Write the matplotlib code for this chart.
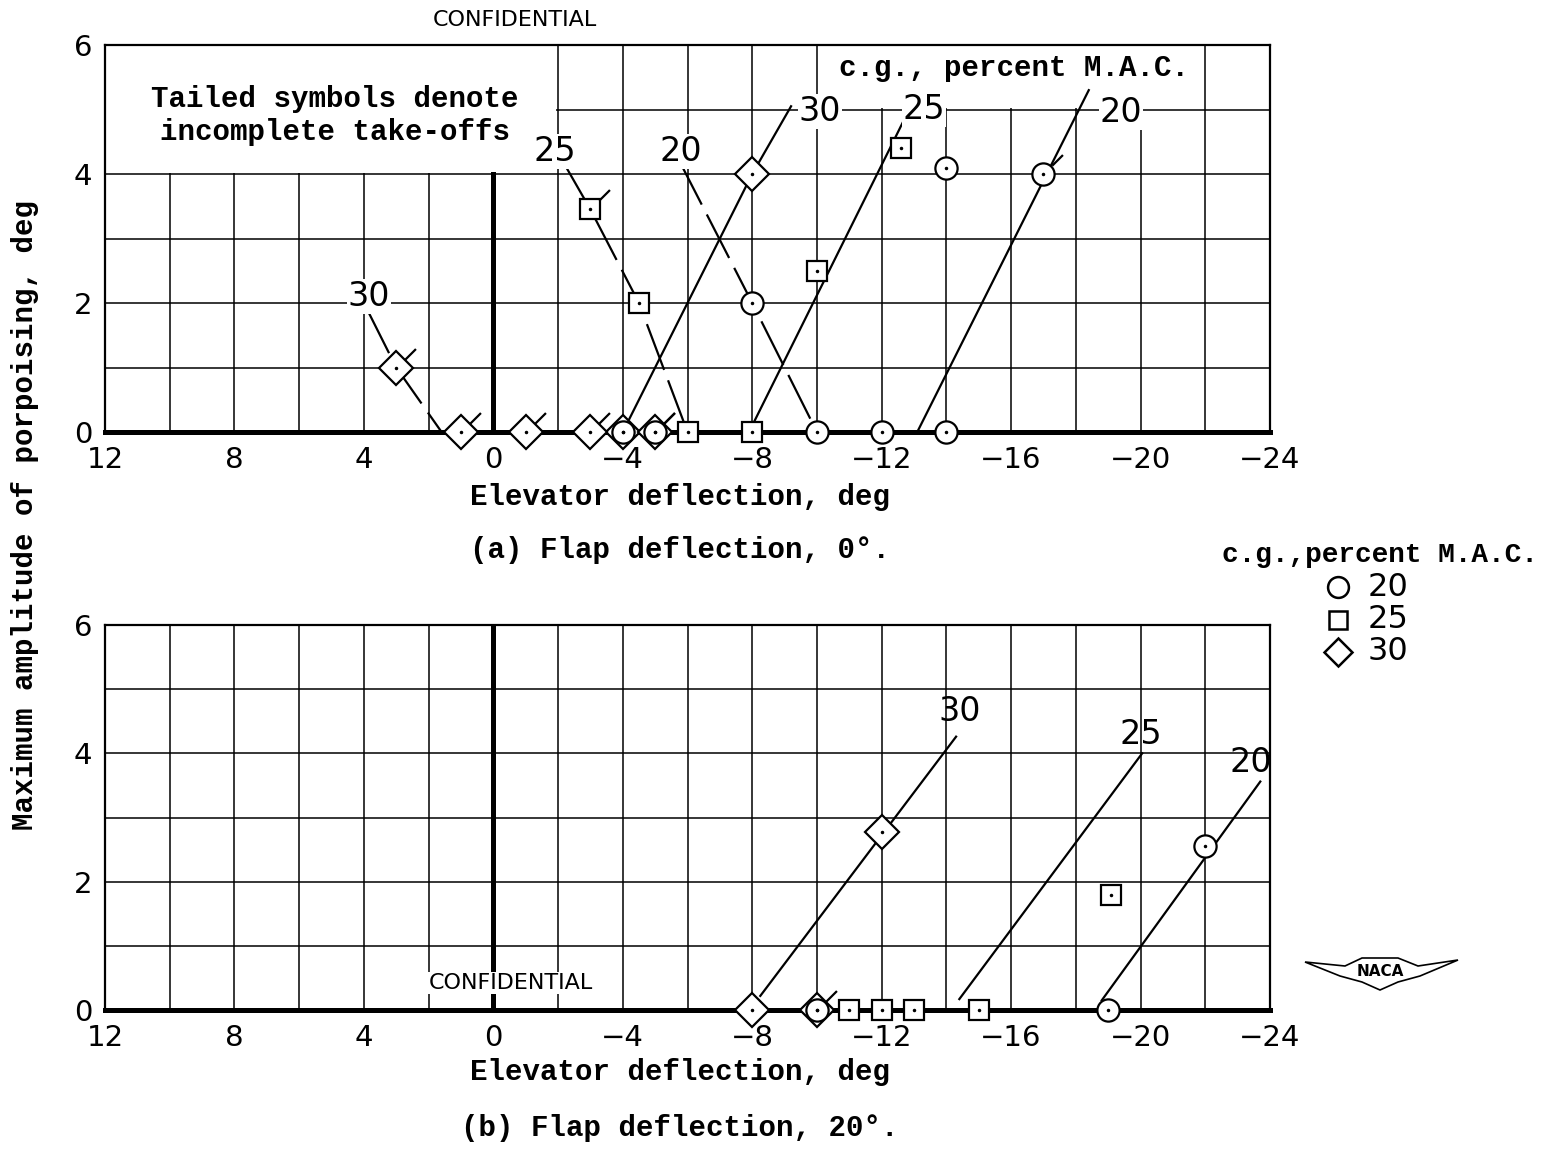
import matplotlib
matplotlib.use("Agg")
import matplotlib.pyplot as plt
from matplotlib.path import Path
from matplotlib.patches import Rectangle, Polygon
from matplotlib.lines import Line2D

# (a) flap deflection 0 deg -- measured points
a_cg20_x = [-4.0, -8.0, -10.0, -12.0, -14.0, -14.0]
a_cg20_y = [0.0, 2.0, 0.0, 0.0, 0.0, 4.1]
a_cg20_tail_x = [-5.0, -17.0]
a_cg20_tail_y = [0.0, 4.0]
a_cg25_x = [-4.5, -6.0, -8.0, -10.0, -12.6]
a_cg25_y = [2.0, 0.0, 0.0, 2.5, 4.4]
a_cg25_tail_x = [-3.0]
a_cg25_tail_y = [3.45]
a_cg30_x = [-4.0, -8.0]
a_cg30_y = [0.0, 4.0]
a_cg30_tail_x = [3.0, 1.0, -1.0, -3.0, -5.0]
a_cg30_tail_y = [1.0, 0.0, 0.0, 0.0, 0.0]

# (a) faired curves (lower limit dashed, upper limit solid)
a_lo30_x = [3.9, 3.0, 1.6]
a_lo30_y = [1.9, 1.0, 0.0]
a_lo25_x = [-2.2, -3.0, -4.5, -6.0]
a_lo25_y = [4.15, 3.45, 2.0, 0.0]
a_lo20_x = [-5.75, -8.0, -10.0]
a_lo20_y = [4.2, 2.0, 0.0]
a_hi30_x = [-4.2, -8.0, -9.2]
a_hi30_y = [0.2, 4.0, 5.05]
a_hi25_x = [-8.05, -12.9]
a_hi25_y = [0.15, 5.05]
a_hi20_x = [-13.1, -18.4]
a_hi20_y = [0.0, 5.3]
a_lab_text = ["30", "25", "20", "30", "25", "20"]
a_lab_x = [3.85, -1.9, -5.8, -10.1, -13.3, -19.4]
a_lab_y = [2.1, 4.35, 4.35, 4.97, 5.0, 4.95]

# (b) flap deflection 20 deg
b_cg20_x = [-10.0, -19.0, -22.0]
b_cg20_y = [0.0, 0.0, 2.55]
b_cg25_x = [-11.0, -12.0, -13.0, -15.0, -19.1]
b_cg25_y = [0.0, 0.0, 0.0, 0.0, 1.8]
b_cg30_x = [-8.0, -12.0]
b_cg30_y = [0.0, 2.78]
b_cg30_tail_x = [-10.0]
b_cg30_tail_y = [0.0]
b_hi30_x = [-8.25, -14.3]
b_hi30_y = [0.22, 4.26]
b_hi25_x = [-14.4, -20.05]
b_hi25_y = [0.17, 4.0]
b_hi20_x = [-18.8, -23.7]
b_hi20_y = [0.15, 3.56]
b_lab_text = ["30", "25", "20"]
b_lab_x = [-14.4, -20.0, -23.4]
b_lab_y = [4.65, 4.3, 3.85]

xtick_vals = [12, 8, 4, 0, -4, -8, -12, -16, -20, -24]
xtick_text = ["12", "8", "4", "0", "\u22124", "\u22128", "\u221212", "\u221216", "\u221220", "\u221224"]
ytick_vals = [0, 2, 4, 6]

MONO = "Liberation Mono"
tail = Path([(0.45, 0.45), (1.0, 1.0)], [Path.MOVETO, Path.LINETO])
W, H = 1566.0, 1153.0


def pts(ax, xs, ys, marker, ms, tailed=False):
    ax.plot(xs, ys, ls="none", marker=marker, ms=ms, mfc="white", mec="black",
            mew=1.6, zorder=5, clip_on=False)
    ax.plot(xs, ys, ls="none", marker=".", ms=3, color="black", zorder=6, clip_on=False)
    if tailed:
        ax.plot(xs, ys, ls="none", marker=tail, ms=28, mec="black", mew=1.6,
                zorder=6, clip_on=False)


def setup(ax):
    ax.set_xlim(12, -24)
    ax.set_ylim(0, 6)
    ax.set_xticks(xtick_vals)
    ax.set_xticklabels(xtick_text, fontsize=21)
    ax.set_xticks(range(12, -25, -2), minor=True)
    ax.set_yticks(ytick_vals)
    ax.set_yticklabels([str(v) for v in ytick_vals], fontsize=21)
    ax.set_yticks(range(0, 7), minor=True)
    ax.tick_params(which="both", length=0)
    ax.tick_params(axis="x", pad=10)
    ax.tick_params(axis="y", pad=9)
    ax.set_axisbelow(True)
    ax.grid(which="both", color="black", lw=1.1)
    for s in ax.spines.values():
        s.set_linewidth(1.6)
    ax.spines["bottom"].set_linewidth(3.6)
    ax.spines["bottom"].set_zorder(4)


plt.rcParams["font.family"] = ["DejaVu Sans"]
fig = plt.figure(figsize=(15.66, 11.53), dpi=100)

ax1 = fig.add_axes([105 / W, 1 - 432 / H, 1165 / W, 387 / H])
ax2 = fig.add_axes([105 / W, 1 - 1010 / H, 1165 / W, 385 / H])
setup(ax1)
setup(ax2)

# --- panel (a)
ax1.add_patch(Rectangle((11.97, 4.02), -13.92, 1.97, fc="white", ec="none", zorder=1))
ax1.add_patch(Rectangle((-10.05, 5.02), -11.9, 0.97, fc="white", ec="none", zorder=1))
ax1.plot([0, 0], [0, 4], color="black", lw=3.6, zorder=2)
dash = (0, (22, 5))
for xs, ys in [(a_lo30_x, a_lo30_y), (a_lo25_x, a_lo25_y), (a_lo20_x, a_lo20_y)]:
    ax1.plot(xs, ys, color="black", lw=1.6, ls=dash, zorder=3)
for xs, ys in [(a_hi30_x, a_hi30_y), (a_hi25_x, a_hi25_y), (a_hi20_x, a_hi20_y)]:
    ax1.plot(xs, ys, color="black", lw=1.6, zorder=3)
pts(ax1, a_cg30_x, a_cg30_y, "D", 17)
pts(ax1, a_cg30_tail_x, a_cg30_tail_y, "D", 17, tailed=True)
pts(ax1, a_cg20_x, a_cg20_y, "o", 16)
pts(ax1, a_cg20_tail_x, a_cg20_tail_y, "o", 16, tailed=True)
pts(ax1, a_cg25_x, a_cg25_y, "s", 14)
pts(ax1, a_cg25_tail_x, a_cg25_tail_y, "s", 14, tailed=True)
for t, x, y in zip(a_lab_text, a_lab_x, a_lab_y):
    ax1.text(x, y, t, fontsize=24, ha="center", va="center", zorder=4,
             bbox=dict(fc="white", ec="none", pad=0.5))
ax1.text(4.9, 4.91, "Tailed symbols denote\nincomplete take-offs", family=MONO,
         fontweight="bold", fontsize=21, ha="center", va="center", zorder=4, linespacing=1.25)
ax1.text(-16.1, 5.64, "c.g., percent M.A.C.", family=MONO, fontweight="bold",
         fontsize=21, ha="center", va="center", zorder=4)

# --- panel (b)
ax2.plot([0, 0], [0, 6], color="black", lw=3.6, zorder=2)
for xs, ys in [(b_hi30_x, b_hi30_y), (b_hi25_x, b_hi25_y), (b_hi20_x, b_hi20_y)]:
    ax2.plot(xs, ys, color="black", lw=1.6, zorder=3)
pts(ax2, b_cg30_x, b_cg30_y, "D", 17)
pts(ax2, b_cg30_tail_x, b_cg30_tail_y, "D", 17, tailed=True)
pts(ax2, b_cg20_x, b_cg20_y, "o", 16)
pts(ax2, b_cg25_x, b_cg25_y, "s", 14)
for t, x, y in zip(b_lab_text, b_lab_x, b_lab_y):
    ax2.text(x, y, t, fontsize=24, ha="center", va="center", zorder=4)
ax2.text(-0.55, 0.42, "CONFIDENTIAL", fontsize=16, ha="center", va="center", zorder=4,
         bbox=dict(fc="white", ec="none", pad=1))

# --- figure texts
fig.text(515 / W, 1 - 20 / H, "CONFIDENTIAL", fontsize=16, ha="center", va="center")
for yy, s in [(497, "Elevator deflection, deg"), (550, "(a) Flap deflection, 0\u00b0."),
              (1072, "Elevator deflection, deg"), (1128, "(b) Flap deflection, 20\u00b0.")]:
    fig.text(680 / W, 1 - yy / H, s, family=MONO, fontweight="bold", fontsize=21,
             ha="center", va="center")
fig.text(25 / W, 1 - 515 / H, "Maximum amplitude of porpoising, deg", family=MONO,
         fontweight="bold", fontsize=21, rotation=90, ha="center", va="center")

# legend
fig.text(1380 / W, 1 - 555 / H, "c.g.,percent M.A.C.", family=MONO, fontweight="bold",
         fontsize=20, ha="center", va="center")
for yy, m, ms, lab in [(587, "o", 15, "20"), (620, "s", 13, "25"), (652, "D", 14, "30")]:
    fig.add_artist(Line2D([1338 / W], [1 - yy / H], marker=m, ms=ms, mfc="white",
                          mec="black", mew=1.8, transform=fig.transFigure))
    fig.text(1368 / W, 1 - yy / H, lab, fontsize=23, ha="left", va="center")

# NACA wings
wing = [(1305, 962), (1345, 966), (1362, 958), (1398, 958), (1418, 966), (1458, 960),
        (1420, 976), (1398, 982), (1380, 990), (1362, 982), (1340, 976)]
fig.add_artist(Polygon([(x / W, 1 - y / H) for x, y in wing], closed=True, fc="white",
                       ec="black", lw=1.2, transform=fig.transFigure))
fig.text(1380 / W, 1 - 972 / H, "NACA", fontsize=11, fontweight="bold", ha="center", va="center")

fig.savefig("out.png", dpi=100)
